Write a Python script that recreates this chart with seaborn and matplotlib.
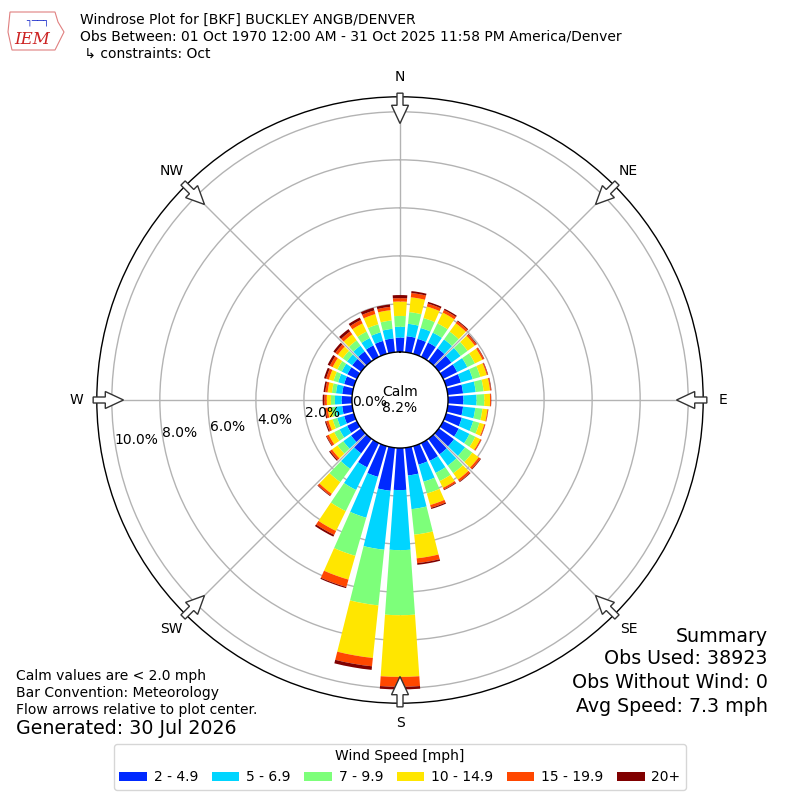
import numpy as np
import seaborn as sns
import matplotlib.pyplot as plt
from matplotlib.patches import FancyArrow, Polygon

# ---- data (percent of obs, by direction the wind blows from) ----
directions = np.arange(0, 360, 10)
speed_bins = ["2 - 4.9", "5 - 6.9", "7 - 9.9", "10 - 14.9", "15 - 19.9", "20+"]

spd_2_5 = [0.60, 0.67, 0.65, 0.66, 0.66, 0.65, 0.65, 0.64, 0.64, 0.64, 0.64, 0.68,
           0.72, 0.78, 0.80, 0.82, 0.80, 1.16, 1.75, 1.80, 1.33, 1.12, 0.75, 0.52,
           0.45, 0.42, 0.42, 0.43, 0.42, 0.42, 0.44, 0.46, 0.50, 0.53, 0.56, 0.58]
spd_5_7 = [0.45, 0.52, 0.47, 0.46, 0.46, 0.47, 0.47, 0.51, 0.53, 0.55, 0.51, 0.49,
           0.50, 0.57, 0.58, 0.56, 0.74, 1.41, 2.50, 2.47, 1.77, 1.05, 0.79, 0.40,
           0.35, 0.30, 0.28, 0.28, 0.26, 0.26, 0.26, 0.27, 0.30, 0.34, 0.37, 0.40]
spd_7_10 = [0.45, 0.49, 0.43, 0.43, 0.40, 0.36, 0.35, 0.33, 0.33, 0.32, 0.30, 0.27,
            0.27, 0.37, 0.39, 0.38, 0.51, 1.07, 2.71, 2.33, 1.65, 0.98, 0.69, 0.30,
            0.25, 0.20, 0.17, 0.17, 0.17, 0.20, 0.20, 0.22, 0.27, 0.30, 0.35, 0.35]
spd_10_15 = [0.60, 0.62, 0.50, 0.50, 0.43, 0.37, 0.35, 0.28, 0.27, 0.24, 0.21, 0.21,
             0.23, 0.33, 0.33, 0.31, 0.50, 0.99, 2.57, 2.20, 1.03, 0.92, 0.60, 0.28,
             0.25, 0.18, 0.16, 0.17, 0.18, 0.20, 0.22, 0.25, 0.31, 0.38, 0.44, 0.43]
spd_15_20 = [0.14, 0.18, 0.13, 0.12, 0.10, 0.08, 0.07, 0.04, 0.04, 0.04, 0.03, 0.04,
             0.05, 0.09, 0.10, 0.08, 0.12, 0.20, 0.41, 0.35, 0.32, 0.18, 0.09, 0.10,
             0.10, 0.10, 0.09, 0.10, 0.10, 0.12, 0.13, 0.13, 0.15, 0.16, 0.16, 0.14]
spd_20p = [0.13, 0.08, 0.07, 0.06, 0.04, 0.03, 0.02, 0.02, 0.02, 0.01, 0.01, 0.01,
           0.01, 0.03, 0.03, 0.03, 0.05, 0.07, 0.11, 0.15, 0.05, 0.08, 0.03, 0.05,
           0.03, 0.05, 0.05, 0.07, 0.07, 0.09, 0.10, 0.10, 0.12, 0.11, 0.12, 0.10]

calm_pct = 8.2
rticks = [0, 2, 4, 6, 8, 10]
compass = ["N", "NE", "E", "SE", "S", "SW", "W", "NW"]

sns.set_theme(style="white", rc={"text.color": "black", "xtick.color": "black",
                                 "ytick.color": "black", "axes.labelcolor": "black"})
plt.rcParams["font.family"] = ["DejaVu Sans"]
colors = sns.color_palette(plt.get_cmap("jet")(np.linspace(1 / 6, 1, 6)))

fig = plt.figure(figsize=(8, 8), dpi=100)
ax = fig.add_axes([0.121, 0.121, 0.758, 0.758], projection="polar")
ax.set_theta_zero_location("N")
ax.set_theta_direction(-1)

theta = np.radians(directions)
bottom = np.zeros(len(directions))
for vals, color, label in zip([spd_2_5, spd_5_7, spd_7_10, spd_10_15, spd_15_20, spd_20p],
                              colors, speed_bins):
    vals = np.array(vals)
    ax.bar(theta, vals, width=np.radians(8), bottom=bottom, color=color,
           label=label, linewidth=0, zorder=2)
    bottom += vals

ax.set_rorigin(-2.0)
ax.set_ylim(0, 10.625)
ax.set_yticks(rticks)
ax.set_yticklabels([])
for r in rticks:
    ang = 268 if r == 0 else 262
    ax.text(np.radians(ang), r, f"{r:.1f}%", ha="left", va="center", fontsize=10, zorder=5)

ax.set_xticks(np.radians(np.arange(0, 360, 45)))
ax.set_xticklabels(compass, fontsize=10)
ax.tick_params(axis="x", pad=1.5, colors="black")
ax.grid(True, color="#b3b3b3", linewidth=1.0)
for sp in ax.spines.values():
    sp.set_color("black")
    sp.set_linewidth(1.0)

# flow arrows pointing to plot center
for d in np.arange(0, 360, 45):
    ux, uy = np.sin(np.radians(d)), np.cos(np.radians(d))
    x0, y0 = 0.5 + 0.506 * ux, 0.5 + 0.506 * uy
    arr = FancyArrow(x0, y0, -0.05 * ux, -0.05 * uy, width=0.0099, head_width=0.028,
                     head_length=0.03, length_includes_head=True, transform=ax.transAxes,
                     facecolor="white", edgecolor="#333333", linewidth=1.0,
                     clip_on=False, zorder=6)
    ax.add_artist(arr)

ax.text(0.5, 0.5, f"Calm\n{calm_pct:.1f}%", transform=ax.transAxes,
        ha="center", va="center", fontsize=10, zorder=5)

# header
fig.text(80 / 800, 1 - 20 / 800, "Windrose Plot for [BKF] BUCKLEY ANGB/DENVER",
         fontsize=10, va="center")
fig.text(80 / 800, 1 - 37 / 800,
         "Obs Between: 01 Oct 1970 12:00 AM - 31 Oct 2025 11:58 PM America/Denver",
         fontsize=10, va="center")
fig.text(80 / 800, 1 - 54 / 800, " \u21b3 constraints: Oct", fontsize=10, va="center")

# rough IEM logo
logo = Polygon([[10 / 800, 1 - 12 / 800], [55 / 800, 1 - 12 / 800], [58 / 800, 1 - 22 / 800],
                [64 / 800, 1 - 32 / 800], [58 / 800, 1 - 44 / 800], [55 / 800, 1 - 50 / 800],
                [12 / 800, 1 - 50 / 800], [8 / 800, 1 - 32 / 800]],
               closed=True, transform=fig.transFigure, facecolor="none",
               edgecolor="#e08080", linewidth=0.8)
fig.add_artist(logo)
fig.text(14 / 800, 1 - 39 / 800, "IEM", fontsize=12, color="#cc2222", style="italic",
         family="serif", va="center")
fig.text(26 / 800, 1 - 22 / 800, "\u2510\u2500\u2500\u2510", fontsize=7, color="#2233cc",
         va="center")

# footer notes
fig.text(16 / 800, 1 - 676 / 800, "Calm values are < 2.0 mph", fontsize=10, va="center")
fig.text(16 / 800, 1 - 693 / 800, "Bar Convention: Meteorology", fontsize=10, va="center")
fig.text(16 / 800, 1 - 710 / 800, "Flow arrows relative to plot center.", fontsize=10,
         va="center")
fig.text(16 / 800, 1 - 729 / 800, "Generated: 30 Jul 2026", fontsize=13.7, va="center")

fig.text(768 / 800, 1 - 636 / 800, "Summary", fontsize=13.7, ha="right", va="center")
fig.text(768 / 800, 1 - 659 / 800, "Obs Used: 38923", fontsize=13.7, ha="right",
         va="center")
fig.text(768 / 800, 1 - 683 / 800, "Obs Without Wind: 0", fontsize=13.7, ha="right",
         va="center")
fig.text(768 / 800, 1 - 706 / 800, "Avg Speed: 7.3 mph", fontsize=13.7, ha="right",
         va="center")

handles, labels = ax.get_legend_handles_labels()
fig.legend(handles, labels, loc="lower center", bbox_to_anchor=(0.5, 0.004), ncol=6,
           title="Wind Speed [mph]", fontsize=10, title_fontsize=10, frameon=True,
           handlelength=2.0, handleheight=0.7, handletextpad=0.5, columnspacing=0.95)

fig.savefig("out.png", dpi=100)
